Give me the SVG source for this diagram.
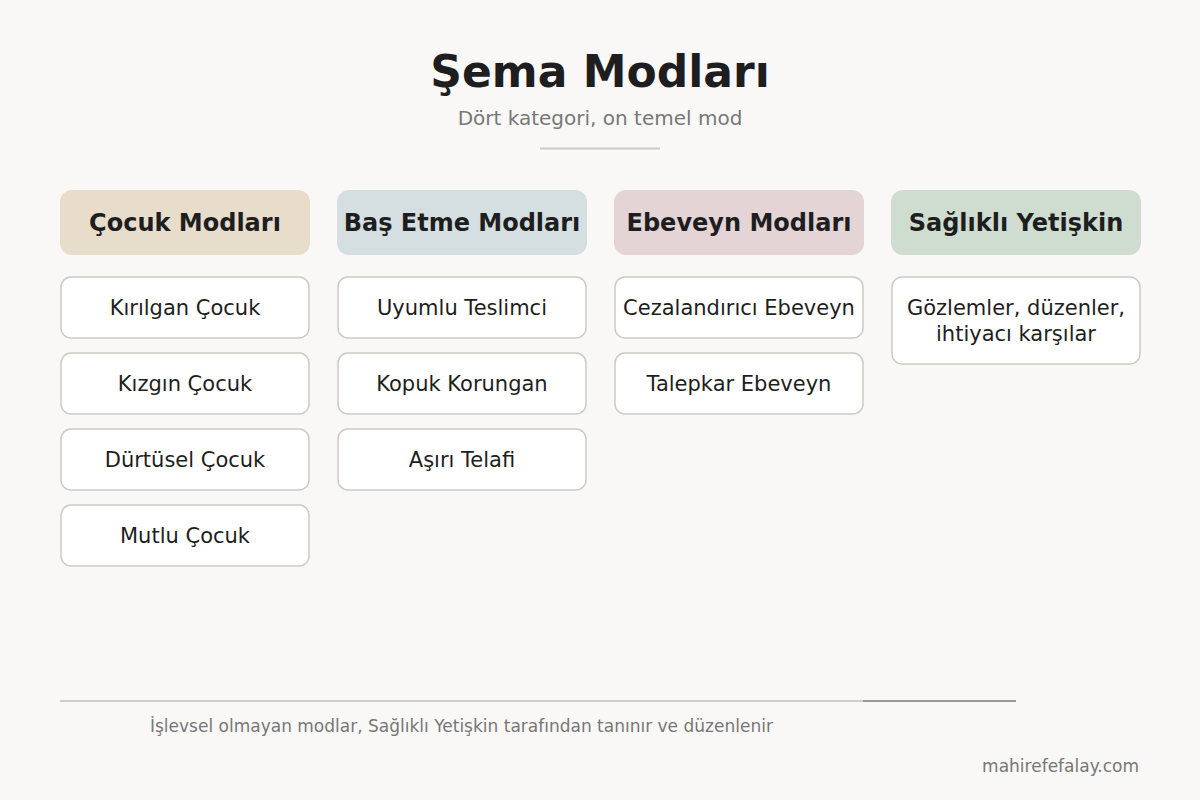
<svg xmlns="http://www.w3.org/2000/svg" width="1200" height="800" viewBox="0 0 1200 800">
<style>
text{font-family:"DejaVu Sans","Noto Sans",sans-serif;}
.title{font-size:44px;font-weight:bold;fill:#1e1e20;text-anchor:middle}
.sub{font-size:20px;fill:#777;text-anchor:middle}
.hdr{font-size:24px;font-weight:bold;fill:#1e1e20;text-anchor:middle}
.item rect{fill:#fff;stroke:#cdcac5;stroke-width:1.5}
.item text{font-size:21px;fill:#1e1e20;text-anchor:middle}
.foot{font-size:17px;fill:#777}
</style>
<rect width="1200" height="800" fill="#f9f8f6"/>
<text class="title" x="600" y="87">Şema Modları</text>
<text class="sub" x="600" y="125">Dört kategori, on temel mod</text>
<line x1="540" y1="148.5" x2="660" y2="148.5" stroke="#cdcac5" stroke-width="2"/>

<g id="cat-cocuk">
<rect x="60" y="190" width="250" height="65" rx="12" fill="#e8dccb"/>
<text class="hdr" x="185" y="231">Çocuk Modları</text>
</g>
<g id="cat-basetme">
<rect x="337" y="190" width="250" height="65" rx="12" fill="#d5dee0"/>
<text class="hdr" x="462" y="231">Baş Etme Modları</text>
</g>
<g id="cat-ebeveyn">
<rect x="614" y="190" width="250" height="65" rx="12" fill="#e4d4d6"/>
<text class="hdr" x="739" y="231">Ebeveyn Modları</text>
</g>
<g id="cat-saglikli">
<rect x="891" y="190" width="250" height="65" rx="12" fill="#cfdcd0"/>
<text class="hdr" x="1016" y="231">Sağlıklı Yetişkin</text>
</g>

<g id="kirilgan" class="item"><rect x="61" y="277" width="248" height="61" rx="10"/><text x="185" y="315">Kırılgan Çocuk</text></g>
<g id="kizgin" class="item"><rect x="61" y="353" width="248" height="61" rx="10"/><text x="185" y="391">Kızgın Çocuk</text></g>
<g id="durtusel" class="item"><rect x="61" y="429" width="248" height="61" rx="10"/><text x="185" y="467">Dürtüsel Çocuk</text></g>
<g id="mutlu" class="item"><rect x="61" y="505" width="248" height="61" rx="10"/><text x="185" y="543">Mutlu Çocuk</text></g>

<g id="uyumlu" class="item"><rect x="338" y="277" width="248" height="61" rx="10"/><text x="462" y="315">Uyumlu Teslimci</text></g>
<g id="kopuk" class="item"><rect x="338" y="353" width="248" height="61" rx="10"/><text x="462" y="391">Kopuk Korungan</text></g>
<g id="asiri" class="item"><rect x="338" y="429" width="248" height="61" rx="10"/><text x="462" y="467">Aşırı Telafi</text></g>

<g id="cezalandirici" class="item"><rect x="615" y="277" width="248" height="61" rx="10"/><text x="739" y="315">Cezalandırıcı Ebeveyn</text></g>
<g id="talepkar" class="item"><rect x="615" y="353" width="248" height="61" rx="10"/><text x="739" y="391">Talepkar Ebeveyn</text></g>

<g id="saglikli" class="item"><rect x="892" y="277" width="248" height="87" rx="10"/><text x="1016" y="315">Gözlemler, düzenler,</text><text x="1016" y="341">ihtiyacı karşılar</text></g>

<g id="connectors">
<line x1="60" y1="701" x2="863" y2="701" stroke="#d0cdc8" stroke-width="2"/>
<line x1="863" y1="701" x2="1016" y2="701" stroke="#9a9996" stroke-width="2"/>
</g>
<text class="foot" x="150" y="732">İşlevsel olmayan modlar, Sağlıklı Yetişkin tarafından tanınır ve düzenlenir</text>
<text class="foot" x="1139" y="772" text-anchor="end">mahirefefalay.com</text>
</svg>
